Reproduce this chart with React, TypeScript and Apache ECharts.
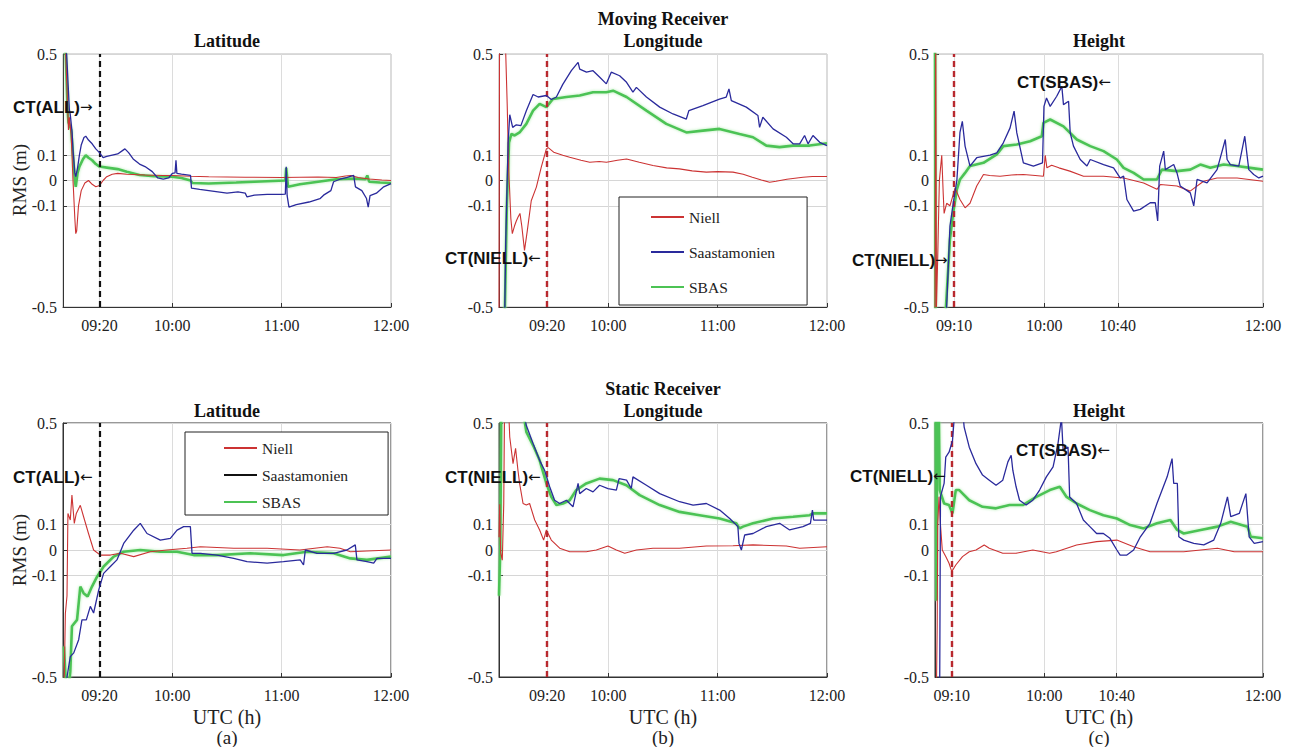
import React, { useEffect, useRef } from 'react';
import * as echarts from 'echarts';

const SERIF = 'Liberation Serif';
const SANS = 'Liberation Sans';

type Pt = [number, number];

// time axis: minutes after 09:00 UTC
const yTicks = [-0.5, -0.1, 0, 0.1, 0.5];
const yLabels = ['-0.5', '-0.1', '0', '0.1', '0.5'];

const xTicksLat = [20, 60, 120, 180];
const xTicksLon = [26.4, 60, 120, 180];
const xTicksHgtMoving = [10.5, 60, 100.3, 180];
const xTicksHgtStatic = [9.2, 60, 99.7, 180];
const xLabelsLatLon = ['09:20', '10:00', '11:00', '12:00'];
const xLabelsHgt = ['09:10', '10:00', '10:40', '12:00'];

// Convergence time markers (minutes after 09:00)
const ctLatMoving = [{ t: 20, kind: 'all' }];
const ctLonMoving = [{ t: 26.4, kind: 'niell' }];
const ctHgtMoving = [{ t: 10.5, kind: 'niell' }, { t: 100.3, kind: 'sbas' }];
const ctLatStatic = [{ t: 20, kind: 'all' }];
const ctLonStatic = [{ t: 26.4, kind: 'niell' }];
const ctHgtStatic = [{ t: 9.2, kind: 'niell' }, { t: 99.7, kind: 'sbas' }];

// ---------- (a) Moving Latitude ----------
const niellLatMoving: Pt[] = [[0,0.6],[1.5,0.5],[2.5,0.3],[3,0.2],[3.5,0.25],[4.5,0.18],[5.5,0.0],[6.5,-0.15],[7,-0.21],[7.5,-0.2],[8.5,-0.1],[10,-0.04],[12,-0.01],[14,0],[16,-0.015],[18,-0.025],[20,-0.02],[22,0],[24,0.015],[27,0.025],[30,0.028],[35,0.025],[45,0.022],[55,0.02],[60,0.02],[70,0.017],[80,0.015],[100,0.013],[120,0.012],[130,0.013],[140,0.014],[150,0.012],[155,0.018],[158,0.02],[162,0.012],[168,0.006],[175,0.002],[180,0]];
const saasLatMoving: Pt[] = [[0,0.6],[2,0.5],[3.5,0.28],[4,0.26],[5,0.19],[5.5,0.12],[6.5,0.03],[7,0.015],[8,0.05],[9,0.1],[10,0.14],[11.5,0.17],[12.5,0.175],[14,0.16],[16,0.145],[18,0.125],[20,0.11],[22,0.09],[24,0.095],[27,0.1],[30,0.105],[33,0.12],[34,0.125],[36,0.11],[38.5,0.085],[42,0.065],[45,0.055],[49,0.035],[52,0.01],[55,0.005],[58,0.01],[60,0.028],[61.5,0.03],[62,0.08],[62.5,0.028],[65,0.025],[70,0.02],[70.5,-0.03],[75,-0.035],[80,-0.04],[90,-0.05],[96,-0.045],[100,-0.05],[101,-0.065],[105,-0.058],[112,-0.055],[120,-0.055],[122,-0.054],[122.5,0.054],[123,-0.06],[124,-0.105],[128,-0.095],[135,-0.085],[141,-0.072],[143,-0.058],[147,-0.04],[148.5,-0.005],[152,0.005],[156,0.012],[159.5,0.02],[160.5,-0.025],[164,-0.04],[166.5,-0.07],[167.5,-0.105],[168.5,-0.06],[172,-0.05],[176,-0.025],[180,-0.012]];
const sbasLatMoving: Pt[] = [[0,0.6],[1.5,0.5],[2.5,0.28],[3,0.23],[4.5,0.2],[5.5,0.1],[6.5,0.0],[7,-0.025],[8,0.03],[9,0.055],[11,0.085],[12.5,0.1],[14,0.09],[16,0.08],[18,0.065],[20,0.055],[25,0.05],[30,0.045],[35,0.035],[42,0.022],[50,0.017],[60,0.015],[65,0.01],[70,0.0],[71,-0.01],[80,-0.012],[95,-0.008],[105,-0.005],[122,0.0],[122.5,0.05],[123.5,-0.025],[130,-0.015],[140,-0.005],[150,0.005],[160,0.008],[166,0.005],[167,0.02],[168,-0.005],[174,-0.008],[180,-0.01]];

// ---------- (b) Moving Longitude ----------
const niellLonMoving: Pt[] = [[0,-0.6],[0.3,0.6],[1,0.6],[3,0.6],[3.7,0.5],[4.5,0.3],[5.3,0.05],[6.5,-0.15],[7.3,-0.21],[8.5,-0.18],[9.5,-0.16],[10.4,-0.145],[11.5,-0.13],[12.5,-0.18],[14,-0.276],[15.5,-0.2],[17.7,-0.08],[20.5,-0.026],[23.2,0.053],[26,0.125],[27,0.13],[30,0.112],[35,0.1],[38.8,0.092],[45,0.08],[49.8,0.072],[55,0.075],[59,0.072],[65,0.08],[70,0.085],[77,0.072],[84.5,0.059],[92,0.05],[99,0.046],[106,0.038],[113.8,0.033],[120,0.035],[128.4,0.033],[134,0.025],[139,0.013],[144,0.002],[148.5,-0.007],[152,-0.003],[158,0.005],[166.8,0.013],[172,0.016],[180,0.016]];
const saasLonMoving: Pt[] = [[0,-0.6],[3,-0.6],[3.7,-0.24],[5,0.15],[5.9,0.26],[7.5,0.21],[9.5,0.22],[12,0.217],[15,0.276],[18.7,0.34],[21.5,0.33],[26,0.336],[28.7,0.32],[31.5,0.33],[35,0.38],[39.7,0.434],[43.4,0.467],[44.3,0.44],[48,0.428],[51.6,0.434],[55.3,0.408],[58.9,0.382],[61.6,0.428],[66.2,0.414],[70,0.388],[73.5,0.349],[75.4,0.368],[80.9,0.33],[88.2,0.29],[95.5,0.263],[102.8,0.243],[104.2,0.276],[111.9,0.296],[121,0.322],[124.7,0.33],[126.2,0.362],[127.5,0.316],[135.7,0.29],[142.1,0.257],[143,0.21],[144.8,0.25],[150.4,0.204],[157.7,0.171],[161.4,0.145],[165,0.145],[167.7,0.178],[169.6,0.145],[172.3,0.178],[176,0.151],[180,0.138]];
const sbasLonMoving: Pt[] = [[0,-0.6],[3,-0.6],[4.3,-0.1],[5.5,0.15],[6.8,0.184],[8.6,0.178],[11.3,0.19],[15,0.224],[18.7,0.276],[22.3,0.303],[26,0.29],[29.6,0.322],[37,0.33],[44.3,0.336],[51.6,0.349],[58.9,0.349],[62.6,0.355],[70,0.33],[80.9,0.276],[91.8,0.224],[102.8,0.19],[111.9,0.197],[121,0.204],[132,0.184],[139.4,0.171],[146.7,0.138],[154,0.132],[161.4,0.138],[170.5,0.138],[180,0.147]];

// ---------- (c) Moving Height ----------
const niellHgtMoving: Pt[] = [[0,-0.6],[0.4,0.6],[0.8,-0.5],[1.5,-0.3],[2.4,0.0],[3.7,0.1],[4.5,-0.05],[5,-0.13],[6.4,-0.09],[8.2,-0.1],[11,-0.03],[13.7,-0.075],[16.5,-0.108],[19.2,-0.09],[22.9,-0.022],[26.6,0.024],[30,0.02],[35.7,0.017],[42,0.022],[48.5,0.024],[55,0.02],[59.5,0.017],[60.5,0.1],[61.4,0.05],[64,0.06],[68,0.05],[74,0.037],[81.5,0.017],[92.5,0.017],[103.5,0.01],[114.5,-0.01],[121.8,-0.035],[123.7,-0.016],[132.8,-0.022],[140,-0.042],[147.4,-0.003],[154.8,0.01],[165.8,0.01],[180,-0.003]];
const saasHgtMoving: Pt[] = [[6,-0.6],[6.4,-0.5],[8.2,-0.18],[10,-0.09],[12,0],[13.7,0.19],[15,0.234],[16.5,0.136],[19.2,0.057],[22.9,0.09],[30.2,0.1],[33.9,0.109],[37.5,0.149],[41.2,0.208],[43.4,0.274],[44.9,0.188],[48.5,0.07],[54,0.057],[59,0.07],[59.8,0.293],[61.2,0.326],[63.2,0.293],[66.8,0.333],[69.6,0.372],[70.5,0.3],[73.3,0.313],[74.2,0.188],[76,0.136],[79.7,0.083],[83.4,0.057],[85.2,0.083],[92.5,0.063],[98,0.05],[101.6,0.01],[103.5,0.017],[105.3,-0.075],[109,-0.121],[112.6,-0.114],[118.1,-0.088],[120.9,-0.088],[122.2,-0.16],[123.3,0.057],[125.5,0.116],[126.4,0.043],[131,0.063],[132.8,0.03],[134.6,-0.022],[140.1,-0.049],[142,-0.1],[143.8,0.004],[149.3,-0.009],[154.8,0.043],[159.3,0.162],[160.3,0.083],[162.1,0.063],[166.7,0.057],[170,0.175],[172.2,0.043],[174.9,0.024],[177.7,0.01],[180,0.017]];
const sbasHgtMoving: Pt[] = [[0,0.6],[0.3,-0.6],[5.8,-0.6],[6,-0.5],[8.2,-0.233],[10,-0.128],[12,-0.035],[13.7,0.004],[16.5,0.03],[19.2,0.057],[26.6,0.07],[33.9,0.103],[37.5,0.136],[44.9,0.142],[52.2,0.155],[58.6,0.175],[59.5,0.228],[63.2,0.241],[70.5,0.214],[77.8,0.162],[85.2,0.136],[92.5,0.116],[99.8,0.083],[103.5,0.05],[109,0.03],[114.5,0.004],[121.8,0.004],[124.5,0.043],[132.8,0.037],[140.1,0.043],[145.6,0.063],[151.1,0.05],[158.4,0.063],[165.7,0.057],[173,0.05],[180,0.043]];

// ---------- (a) Static Latitude ----------
const niellLatStatic: Pt[] = [[0,-0.6],[0.7,-0.5],[1.3,-0.25],[2.2,-0.18],[2.7,0.144],[4,0.118],[4.9,0.216],[6.2,0.105],[7.3,0.144],[9.5,0.176],[11.3,0.131],[14,0.065],[16.8,0],[20.5,-0.02],[26,-0.02],[31.5,-0.013],[38.8,-0.026],[47.9,-0.007],[57,0],[68,0.007],[75.4,0.013],[93.7,0.007],[112,0.007],[130,0],[145,0.013],[152,0.007],[157.7,-0.007],[166.8,-0.004],[180,0]];
const saasLatStatic: Pt[] = [[1,-0.6],[2.2,-0.5],[4,-0.42],[5.9,-0.405],[8.6,-0.353],[10.4,-0.275],[12.8,-0.275],[15,-0.222],[16.8,-0.248],[19.6,-0.157],[22.3,-0.092],[26,-0.065],[29.6,-0.039],[33.3,0.026],[38.8,0.078],[42.4,0.105],[46.1,0.065],[53.4,0.039],[58.9,0.046],[62.6,0.078],[66.2,0.092],[69.9,0.092],[70.8,-0.013],[75.4,-0.013],[84.5,-0.02],[93.7,-0.033],[101,-0.046],[112,-0.052],[121,-0.046],[130.2,-0.039],[132,-0.059],[133,0],[139.4,-0.013],[148.5,-0.013],[155.8,0],[160.4,0.02],[161.3,-0.039],[166.8,-0.046],[170.5,-0.052],[172.3,-0.033],[180,-0.033]];
const sbasLatStatic: Pt[] = [[0.5,-0.38],[2.2,-0.6],[4,-0.48],[4.9,-0.3],[7.7,-0.275],[9.5,-0.144],[11.3,-0.17],[13.5,-0.183],[15.9,-0.144],[18.7,-0.105],[22.3,-0.065],[27.8,-0.026],[33.3,-0.007],[42.4,0],[53.4,-0.007],[62.6,-0.007],[71.7,-0.02],[84.5,-0.02],[102.8,-0.013],[121,-0.02],[133.9,-0.007],[148.5,-0.013],[157.7,-0.033],[166.8,-0.039],[180,-0.026]];

// ---------- (b) Static Longitude ----------
const niellLonStatic: Pt[] = [[0,0.05],[0.4,0.18],[0.9,-0.01],[1.8,-0.04],[2.6,0.18],[3.1,0.6],[5,0.6],[5.9,0.445],[7.7,0.34],[9.1,0.4],[10.4,0.314],[11.3,0.262],[13.2,0.183],[15,0.177],[16.8,0.183],[19.6,0.118],[22.3,0.079],[24.5,0.039],[26,0.079],[28.7,0.039],[33.3,0.007],[38.8,-0.007],[47.9,-0.007],[53.4,0],[59.8,0.016],[64.4,0],[69,-0.013],[75.4,0],[84.5,0.007],[99,0.007],[113.8,0.016],[128.4,0.017],[139.4,0.02],[157.7,0.016],[165,0.007],[180,0.013]];
const saasLonStatic: Pt[] = [[12,0.6],[15,0.49],[18.7,0.419],[22.3,0.353],[25,0.314],[27.8,0.249],[30.5,0.196],[33.3,0.183],[37,0.196],[40.6,0.17],[43.4,0.262],[44.3,0.222],[47.9,0.242],[51.6,0.229],[55.2,0.255],[59.8,0.242],[64.4,0.236],[65.9,0.281],[70,0.275],[72.6,0.242],[73.5,0.288],[80.9,0.255],[88.2,0.222],[99.1,0.19],[106.5,0.177],[113.8,0.183],[121.1,0.157],[126.6,0.124],[131.1,0.092],[131.7,0.026],[133,0],[134.8,0.059],[139.4,0.065],[146.7,0.092],[154,0.105],[159.5,0.079],[166.8,0.092],[170.9,0.105],[172,0.157],[172.7,0.118],[180,0.118]];
const sbasLonStatic: Pt[] = [[0,-0.18],[0.7,0.0],[1.3,0.6],[12,0.6],[15,0.465],[18.7,0.412],[22.3,0.353],[26,0.262],[28.7,0.209],[31.5,0.177],[35.1,0.183],[38.8,0.196],[42.4,0.236],[47.9,0.262],[55.2,0.281],[62.6,0.275],[69.9,0.255],[77.2,0.216],[88.2,0.177],[99.1,0.15],[110.1,0.137],[121.1,0.124],[130.2,0.105],[132,0.085],[133.9,0.092],[139.4,0.105],[150.4,0.124],[161.4,0.131],[170.5,0.137],[172.3,0.144],[180,0.144]];

// ---------- (c) Static Height ----------
const niellHgtStatic: Pt[] = [[0.7,-0.6],[1.2,-0.3],[1.5,0.1],[2.2,0.21],[3,0.1],[4,0],[5.9,-0.026],[7.7,-0.052],[9.2,-0.085],[11.4,-0.059],[15.1,-0.026],[18.8,-0.007],[22.5,0],[27,0.02],[29.8,0.007],[37.2,-0.013],[44.5,-0.013],[53.7,0],[62.9,-0.013],[66.6,-0.007],[77.7,0.02],[88.7,0.033],[99.8,0.039],[109,0.013],[118,-0.007],[136.5,-0.007],[145.8,0],[155,0.007],[164.2,-0.007],[180,-0.007]];
const saasHgtStatic: Pt[] = [[2,-0.6],[2.6,-0.5],[3,0.21],[5,0.262],[5.9,0.366],[7.7,0.385],[9.6,0.43],[11.4,0.6],[14.5,0.6],[16,0.484],[18.8,0.405],[22.5,0.34],[26.1,0.295],[29.8,0.275],[33.5,0.255],[37.2,0.275],[40,0.347],[41.8,0.373],[42.7,0.314],[44.5,0.249],[46.4,0.196],[50,0.177],[53.7,0.196],[57.4,0.236],[61.1,0.288],[64.8,0.327],[67.5,0.419],[69.4,0.52],[70.3,0.393],[73,0.405],[73.9,0.209],[77.7,0.183],[81.4,0.118],[85,0.092],[88.7,0.065],[92.4,0.065],[96,0.046],[99.8,0],[101.6,-0.02],[105.3,-0.02],[109,0],[112.7,0.052],[118,0.105],[121.8,0.183],[127.4,0.288],[130.1,0.36],[131,0.262],[133,0.262],[133.8,0.052],[136.5,0.039],[142,0.026],[147.5,0.02],[153,0.039],[156.8,0.105],[160.5,0.209],[162.3,0.131],[167,0.144],[170.6,0.222],[172.4,0.052],[175.2,0.026],[180,0.033]];
const sbasHgtStatic: Pt[] = [[0.3,0.6],[0.8,-0.2],[1.2,0.6],[2,0.6],[2.6,0.236],[5,0.183],[7.7,0.177],[9.6,0.144],[11.4,0.236],[13.3,0.236],[18.8,0.196],[26.1,0.17],[33.5,0.164],[40.9,0.177],[48.2,0.177],[55.6,0.209],[63,0.236],[68.5,0.249],[72.2,0.209],[77.7,0.183],[85,0.157],[92.4,0.137],[99.8,0.124],[107.1,0.098],[114.5,0.085],[121.8,0.105],[129.2,0.118],[132.9,0.079],[136.5,0.065],[145.8,0.079],[155,0.092],[162.3,0.111],[171.5,0.092],[173.3,0.052],[180,0.046]];

const panels = [
  { niell: niellLatMoving, saas: saasLatMoving, sbas: sbasLatMoving, ticks: xTicksLat, labels: xLabelsLatLon, ct: ctLatMoving },
  { niell: niellLonMoving, saas: saasLonMoving, sbas: sbasLonMoving, ticks: xTicksLon, labels: xLabelsLatLon, ct: ctLonMoving },
  { niell: niellHgtMoving, saas: saasHgtMoving, sbas: sbasHgtMoving, ticks: xTicksHgtMoving, labels: xLabelsHgt, ct: ctHgtMoving },
  { niell: niellLatStatic, saas: saasLatStatic, sbas: sbasLatStatic, ticks: xTicksLat, labels: xLabelsLatLon, ct: ctLatStatic },
  { niell: niellLonStatic, saas: saasLonStatic, sbas: sbasLonStatic, ticks: xTicksLon, labels: xLabelsLatLon, ct: ctLonStatic },
  { niell: niellHgtStatic, saas: saasHgtStatic, sbas: sbasHgtStatic, ticks: xTicksHgtStatic, labels: xLabelsHgt, ct: ctHgtStatic },
];

// layout (pixels)
const gridPos = [
  { left: 63, top: 54, width: 328, height: 253, border: '#b8b8b8' },
  { left: 499, top: 54, width: 328, height: 253, border: '#b8b8b8' },
  { left: 935, top: 54, width: 328, height: 253, border: '#b8b8b8' },
  { left: 63, top: 423, width: 328, height: 254, border: '#333' },
  { left: 499, top: 423, width: 328, height: 254, border: '#333' },
  { left: 935, top: 423, width: 328, height: 254, border: '#333' },
];

const ctStyle: Record<string, any> = {
  all: { color: '#111', width: 2.2, type: [6, 4] },
  niell: { color: '#b8282e', width: 2.4, type: [6, 4] },
  sbas: { color: '#3ec24b', width: 3.6, type: [7, 3], shadowColor: 'rgba(120,230,120,0.8)', shadowBlur: 4 },
};

const COL_NIELL = '#cc3333';
const COL_SAAS = '#2a2a9c';
const COL_SBAS = '#4cc354';

function buildOption() {
  const grid: any[] = [];
  const xAxis: any[] = [];
  const yAxis: any[] = [];
  const series: any[] = [];

  panels.forEach((p, i) => {
    const g = gridPos[i];
    grid.push({
      left: g.left, top: g.top, width: g.width, height: g.height,
      show: true, borderColor: g.border, borderWidth: 1, backgroundColor: 'transparent',
    });
    const ticks = p.ticks;
    const labels = p.labels;
    xAxis.push({
      type: 'value', gridIndex: i, min: 0, max: 180, interval: 60,
      axisLine: { show: true, onZero: false, lineStyle: { color: '#333', width: 1 } },
      axisTick: { show: true, inside: true, length: 4, customValues: ticks, lineStyle: { color: '#333' } },
      axisLabel: {
        customValues: ticks, margin: 10, fontFamily: SERIF, fontSize: 16, color: '#222',
        formatter: (v: number) => {
          let best = 0;
          for (let k = 0; k < ticks.length; k++) if (Math.abs(ticks[k] - v) < Math.abs(ticks[best] - v)) best = k;
          return labels[best];
        },
      },
      splitLine: { show: true, lineStyle: { color: '#dcdcdc', width: 1 } },
    });
    yAxis.push({
      type: 'value', gridIndex: i, min: -0.5, max: 0.5,
      axisLine: { show: true, onZero: false, lineStyle: { color: '#333', width: 1 } },
      axisTick: { show: true, inside: true, length: 4, customValues: yTicks, lineStyle: { color: '#333' } },
      axisLabel: {
        customValues: yTicks, margin: 6, fontFamily: SERIF, fontSize: 16, color: '#222',
        formatter: (v: number) => {
          let best = 0;
          for (let k = 0; k < yTicks.length; k++) if (Math.abs(yTicks[k] - v) < Math.abs(yTicks[best] - v)) best = k;
          return yLabels[best];
        },
      },
      splitLine: { show: true, lineStyle: { color: '#d6d6d6', width: 1 } },
    });

    series.push({
      type: 'line', name: 'SBAS', xAxisIndex: i, yAxisIndex: i, data: p.sbas,
      symbol: 'none', showSymbol: false, silent: true, z: 3,
      lineStyle: { color: COL_SBAS, width: 2.6, shadowColor: 'rgba(150,230,150,0.75)', shadowBlur: 3 },
      itemStyle: { color: COL_SBAS },
    });
    series.push({
      type: 'line', name: 'Niell', xAxisIndex: i, yAxisIndex: i, data: p.niell,
      symbol: 'none', showSymbol: false, silent: true, z: 4,
      lineStyle: { color: COL_NIELL, width: 1.1 },
      itemStyle: { color: COL_NIELL },
    });
    series.push({
      type: 'line', name: 'Saastamonien', xAxisIndex: i, yAxisIndex: i, data: p.saas,
      symbol: 'none', showSymbol: false, silent: true, z: 5,
      lineStyle: { color: COL_SAAS, width: 1.3 },
      itemStyle: { color: COL_SAAS },
      markLine: {
        silent: true, symbol: ['none', 'none'], animation: false,
        label: { show: false },
        data: p.ct.map((c) => ({ xAxis: c.t, lineStyle: ctStyle[c.kind] })),
      },
    });
  });

  const legendBase = {
    orient: 'vertical', itemWidth: 33, itemHeight: 14,
    backgroundColor: '#fff', borderColor: '#222', borderWidth: 1, borderRadius: 0,
    itemStyle: { opacity: 0 },
    textStyle: { fontFamily: SERIF, fontSize: 15.5, color: '#222' },
    selectedMode: false,
  };

  const legend = [
    { ...legendBase, left: 619, top: 197, itemGap: 19, padding: [12, 32, 10, 31],
      data: ['Niell', 'Saastamonien', 'SBAS'] },
    { ...legendBase, left: 185, top: 432, itemGap: 11, padding: [8, 40, 5, 38],
      data: ['Niell', { name: 'Saastamonien', itemStyle: { opacity: 0 }, lineStyle: { color: '#111' } }, 'SBAS'] },
  ];

  const txt = (x: number, y: number, text: string, size: number, bold = false, extra: any = {}) => ({
    type: 'text', x, y, silent: true, z: 100,
    style: { text, fill: '#111', fontFamily: SERIF, fontSize: size, fontWeight: bold ? 'bold' : 'normal',
      textAlign: 'center', textVerticalAlign: 'middle', ...extra },
  });

  const ann = (x: number, y: number, label: string, arrow: string) => ({
    type: 'text', x, y, silent: true, z: 100,
    style: {
      text: `{b|${label}}{a|${arrow}}`,
      textAlign: 'left', textVerticalAlign: 'middle',
      rich: {
        b: { fontFamily: SANS, fontWeight: 'bold', fontSize: 17, fill: '#111' },
        a: { fontFamily: 'DejaVu Sans', fontWeight: 'normal', fontSize: 15, fill: '#111' },
      },
    },
  });

  const graphic = [
    txt(227, 41, 'Latitude', 18, true),
    txt(663, 19, 'Moving Receiver', 18, true),
    txt(663, 41, 'Longitude', 18, true),
    txt(1099, 41, 'Height', 18, true),
    txt(227, 411, 'Latitude', 18, true),
    txt(663, 389, 'Static Receiver', 18, true),
    txt(663, 411, 'Longitude', 18, true),
    txt(1099, 411, 'Height', 18, true),
    { type: 'text', x: 19, y: 180, rotation: Math.PI / 2, silent: true,
      style: { text: 'RMS (m)', fill: '#222', fontFamily: SERIF, fontSize: 19, textAlign: 'center', textVerticalAlign: 'middle' } },
    { type: 'text', x: 19, y: 550, rotation: Math.PI / 2, silent: true,
      style: { text: 'RMS (m)', fill: '#222', fontFamily: SERIF, fontSize: 19, textAlign: 'center', textVerticalAlign: 'middle' } },
    txt(227, 717, 'UTC (h)', 20, false, { fill: '#222' }),
    txt(663, 717, 'UTC (h)', 20, false, { fill: '#222' }),
    txt(1099, 717, 'UTC (h)', 20, false, { fill: '#222' }),
    txt(227, 737, '(a)', 19, false, { fill: '#222' }),
    txt(663, 737, '(b)', 19, false, { fill: '#222' }),
    txt(1099, 737, '(c)', 19, false, { fill: '#222' }),
    ann(13, 107, 'CT(ALL)', '\u2192'),
    ann(13, 477, 'CT(ALL)', '\u2190'),
    ann(445, 258, 'CT(NIELL)', '\u2190'),
    ann(445, 477, 'CT(NIELL)', '\u2190'),
    ann(852, 260, 'CT(NIELL)', '\u2192'),
    ann(1017, 82, 'CT(SBAS)', '\u2190'),
    ann(850, 476, 'CT(NIELL)', '\u2190'),
    ann(1016, 450, 'CT(SBAS)', '\u2190'),
  ];

  return {
    animation: false,
    backgroundColor: '#fff',
    textStyle: { fontFamily: SERIF },
    grid, xAxis, yAxis, series, legend, graphic,
  };
}

export default function App() {
  const ref = useRef<HTMLDivElement>(null);
  useEffect(() => {
    if (!ref.current) return;
    const chart = echarts.init(ref.current, undefined, { renderer: 'svg' });
    chart.setOption(buildOption() as any);
    return () => chart.dispose();
  }, []);
  return (
    <div
      ref={ref}
      style={{ position: 'fixed', left: 0, top: 0, width: 1294, height: 747, background: '#fff' }}
    />
  );
}
